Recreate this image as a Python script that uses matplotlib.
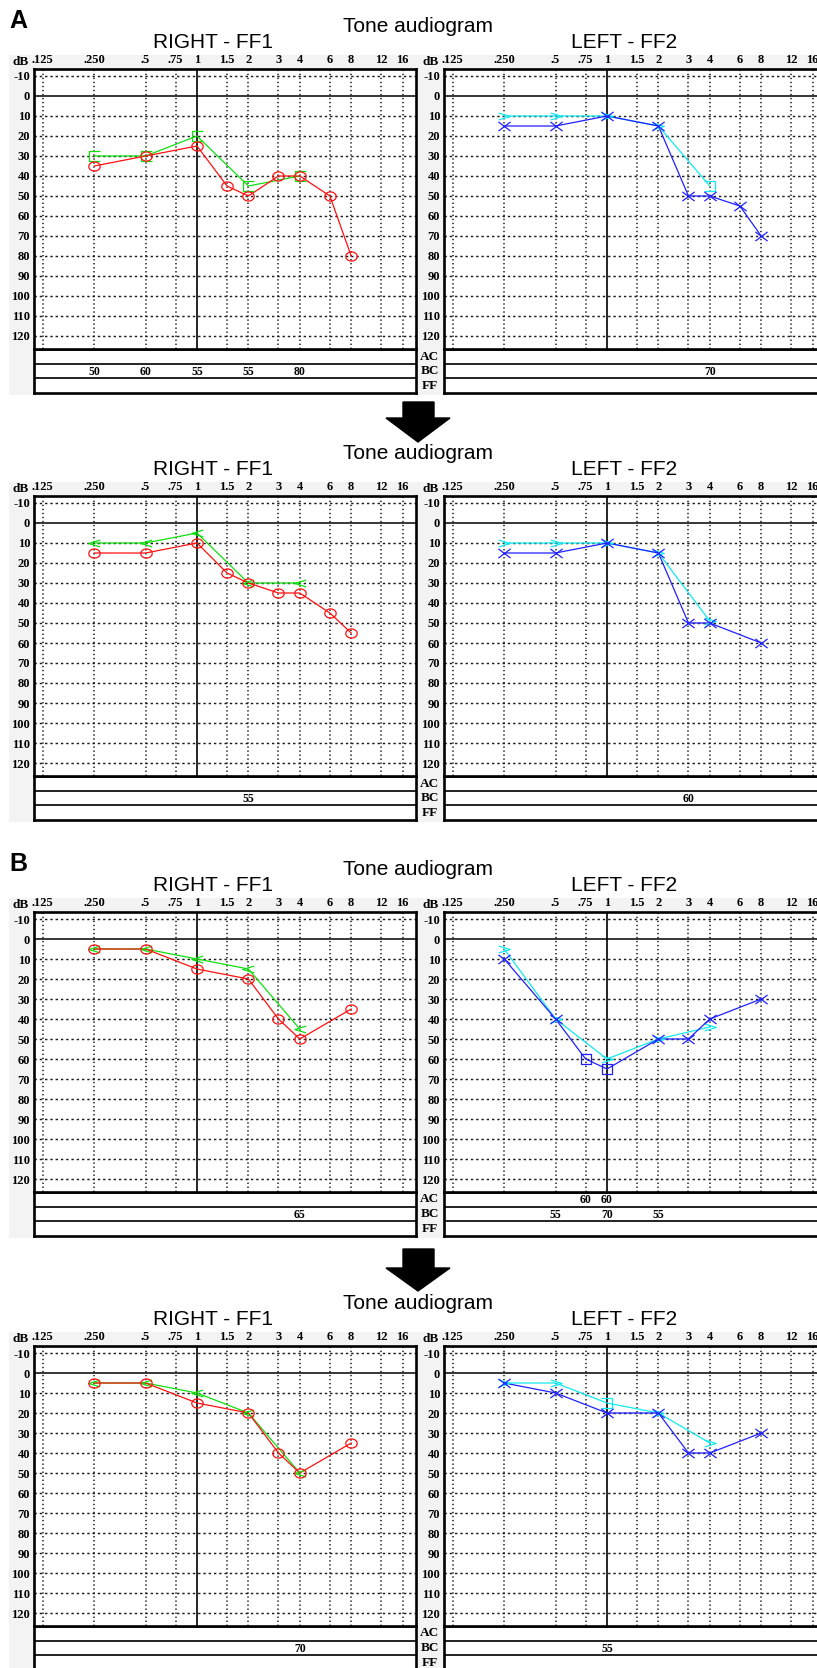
import numpy as np
import matplotlib
matplotlib.use('Agg')
import matplotlib.pyplot as plt
from matplotlib.path import Path
from matplotlib.markers import MarkerStyle
from matplotlib.patches import Rectangle, Polygon
from matplotlib.ticker import NullLocator

plt.rcParams['lines.scale_dashes'] = False

W, H = 817, 1668

# ---------------- data ----------------
freq_ticks = [0.125, 0.25, 0.5, 0.75, 1, 1.5, 2, 3, 4, 6, 8, 12, 16]
freq_labels = ['.125', '.250', '.5', '.75', '1', '1.5', '2', '3', '4', '6', '8', '12', '16']
db_ticks = [-10, 0, 10, 20, 30, 40, 50, 60, 70, 80, 90, 100, 110, 120]
db_labels = [str(v) for v in db_ticks]
row_labels = ['AC', 'BC', 'FF']
block_letters = ['A', '', 'B', '']
title_main = 'Tone audiogram'
title_right = 'RIGHT - FF1'
title_left = 'LEFT - FF2'

# Block 1 (A, before)
b1_r_ac_f = [0.25, 0.5, 1, 1.5, 2, 3, 4, 6, 8]
b1_r_ac_db = [35, 30, 25, 45, 50, 40, 40, 50, 80]
b1_r_ac_sym = ['o'] * 9
b1_r_bc_f = [0.25, 0.5, 1, 2, 4]
b1_r_bc_db = [30, 30, 20, 45, 40]
b1_r_bc_sym = ['[', '[', '[', '[', '[']
b1_l_ac_f = [0.25, 0.5, 1, 2, 3, 4, 6, 8]
b1_l_ac_db = [15, 15, 10, 15, 50, 50, 55, 70]
b1_l_ac_sym = ['x'] * 8
b1_l_bc_f = [0.25, 0.5, 1, 2, 4]
b1_l_bc_db = [10, 10, 10, 15, 45]
b1_l_bc_sym = ['>', '>', '>', '>', ']']
b1_r_tab_bc_f = [0.25, 0.5, 1, 2, 4]
b1_r_tab_bc_v = [50, 60, 55, 55, 80]
b1_l_tab_bc_f = [4]
b1_l_tab_bc_v = [70]

# Block 2 (A, after)
b2_r_ac_f = [0.25, 0.5, 1, 1.5, 2, 3, 4, 6, 8]
b2_r_ac_db = [15, 15, 10, 25, 30, 35, 35, 45, 55]
b2_r_ac_sym = ['o'] * 9
b2_r_bc_f = [0.25, 0.5, 1, 2, 4]
b2_r_bc_db = [10, 10, 5, 30, 30]
b2_r_bc_sym = ['<', '<', '<', '<', '<']
b2_l_ac_f = [0.25, 0.5, 1, 2, 3, 4, 8]
b2_l_ac_db = [15, 15, 10, 15, 50, 50, 60]
b2_l_ac_sym = ['x'] * 7
b2_l_bc_f = [0.25, 0.5, 1, 2, 4]
b2_l_bc_db = [10, 10, 10, 15, 49]
b2_l_bc_sym = ['>', '>', '>', '>', '>']
b2_r_tab_bc_f = [2]
b2_r_tab_bc_v = [55]
b2_l_tab_bc_f = [3]
b2_l_tab_bc_v = [60]

# Block 3 (B, before)
b3_r_ac_f = [0.25, 0.5, 1, 2, 3, 4, 8]
b3_r_ac_db = [5, 5, 15, 20, 40, 50, 35]
b3_r_ac_sym = ['o'] * 7
b3_r_bc_f = [0.25, 0.5, 1, 2, 4]
b3_r_bc_db = [5, 5, 10, 15, 45]
b3_r_bc_sym = ['<', '<', '<', '<', '<']
b3_l_ac_f = [0.25, 0.5, 0.75, 1, 2, 3, 4, 8]
b3_l_ac_db = [10, 40, 60, 65, 50, 50, 40, 30]
b3_l_ac_sym = ['x', 'x', 's', 's', 'x', 'x', 'x', 'x']
b3_l_bc_f = [0.25, 0.5, 1, 2, 4]
b3_l_bc_db = [5, 40, 60, 50, 44]
b3_l_bc_sym = ['>', '>', '>', '>', '>']
b3_r_tab_bc_f = [4]
b3_r_tab_bc_v = [65]
b3_l_tab_ac_f = [0.75, 1]
b3_l_tab_ac_v = [60, 60]
b3_l_tab_bc_f = [0.5, 1, 2]
b3_l_tab_bc_v = [55, 70, 55]

# Block 4 (B, after)
b4_r_ac_f = [0.25, 0.5, 1, 2, 3, 4, 8]
b4_r_ac_db = [5, 5, 15, 20, 40, 50, 35]
b4_r_ac_sym = ['o'] * 7
b4_r_bc_f = [0.25, 0.5, 1, 2, 4]
b4_r_bc_db = [5, 5, 10, 20, 50]
b4_r_bc_sym = ['<', '<', '<', '<', '<']
b4_l_ac_f = [0.25, 0.5, 1, 2, 3, 4, 8]
b4_l_ac_db = [5, 10, 20, 20, 40, 40, 30]
b4_l_ac_sym = ['x'] * 7
b4_l_bc_f = [0.25, 0.5, 1, 2, 4]
b4_l_bc_db = [5, 5, 15, 20, 35]
b4_l_bc_sym = ['>', '>', ']', '>', '>']
b4_r_tab_bc_f = [4]
b4_r_tab_bc_v = [70]
b4_l_tab_bc_f = [1]
b4_l_tab_bc_v = [55]

blocks = [
    dict(r_ac=(b1_r_ac_f, b1_r_ac_db, b1_r_ac_sym), r_bc=(b1_r_bc_f, b1_r_bc_db, b1_r_bc_sym),
         l_ac=(b1_l_ac_f, b1_l_ac_db, b1_l_ac_sym), l_bc=(b1_l_bc_f, b1_l_bc_db, b1_l_bc_sym),
         r_tab={'BC': (b1_r_tab_bc_f, b1_r_tab_bc_v)}, l_tab={'BC': (b1_l_tab_bc_f, b1_l_tab_bc_v)}),
    dict(r_ac=(b2_r_ac_f, b2_r_ac_db, b2_r_ac_sym), r_bc=(b2_r_bc_f, b2_r_bc_db, b2_r_bc_sym),
         l_ac=(b2_l_ac_f, b2_l_ac_db, b2_l_ac_sym), l_bc=(b2_l_bc_f, b2_l_bc_db, b2_l_bc_sym),
         r_tab={'BC': (b2_r_tab_bc_f, b2_r_tab_bc_v)}, l_tab={'BC': (b2_l_tab_bc_f, b2_l_tab_bc_v)}),
    dict(r_ac=(b3_r_ac_f, b3_r_ac_db, b3_r_ac_sym), r_bc=(b3_r_bc_f, b3_r_bc_db, b3_r_bc_sym),
         l_ac=(b3_l_ac_f, b3_l_ac_db, b3_l_ac_sym), l_bc=(b3_l_bc_f, b3_l_bc_db, b3_l_bc_sym),
         r_tab={'BC': (b3_r_tab_bc_f, b3_r_tab_bc_v)},
         l_tab={'AC': (b3_l_tab_ac_f, b3_l_tab_ac_v), 'BC': (b3_l_tab_bc_f, b3_l_tab_bc_v)}),
    dict(r_ac=(b4_r_ac_f, b4_r_ac_db, b4_r_ac_sym), r_bc=(b4_r_bc_f, b4_r_bc_db, b4_r_bc_sym),
         l_ac=(b4_l_ac_f, b4_l_ac_db, b4_l_ac_sym), l_bc=(b4_l_bc_f, b4_l_bc_db, b4_l_bc_sym),
         r_tab={'BC': (b4_r_tab_bc_f, b4_r_tab_bc_v)}, l_tab={'BC': (b4_l_tab_bc_f, b4_l_tab_bc_v)}),
]

# ---------------- style / layout ----------------
RED, GREEN, CYAN, BLUE = '#ff1010', '#10e010', '#10eaf0', '#2020ff'
GRAY_BG = '#f3f3f3'
SERIF = 'Liberation Serif'
SANS = 'Liberation Sans'
PX_OCT = 51.4
DB_PX = 2.0
BLOCK_DY = [0, 427, 843, 1277]
X1K = {'R': 197, 'L': 607}

M_, L_ = Path.MOVETO, Path.LINETO
_t = np.linspace(0, 2 * np.pi, 41)


def _mk(verts, codes=None):
    return MarkerStyle(Path(np.asarray(verts, float), codes))


MARKERS = {
    'o': (_mk(np.c_[np.cos(_t), 0.8 * np.sin(_t)]), 8.2),
    'x': (_mk([(-1, -0.75), (1, 0.75), (-1, 0.75), (1, -0.75)], [M_, L_, M_, L_]), 8.8),
    's': (_mk([(-1, -1), (1, -1), (1, 1), (-1, 1), (-1, -1)]), 6.8),
    '[': (_mk([(1, 0.8), (-0.8, 0.8), (-0.8, -0.8), (1, -0.8)]), 8.2),
    ']': (_mk([(-1, 0.8), (0.8, 0.8), (0.8, -0.8), (-1, -0.8)]), 8.2),
    '<': (_mk([(1, 0.6), (-1, 0), (1, -0.6)]), 8.2),
    '>': (_mk([(-1, 0.6), (1, 0), (-1, -0.6)]), 8.2),
}

fig = plt.figure(figsize=(W / 100, H / 100), dpi=100)


def fx(x):
    return x / W


def fy(y):
    return 1 - y / H


def series(ax, data, color):
    f, db, syms = data
    ax.plot(f, db, color=color, lw=0.9, zorder=3, clip_on=False)
    for s in sorted(set(syms)):
        idx = [i for i, v in enumerate(syms) if v == s]
        m, ms = MARKERS[s]
        ax.plot([f[i] for i in idx], [db[i] for i in idx], ls='none', marker=m, ms=ms,
                mec=color, mfc='none', mew=0.9, zorder=4, clip_on=False)


def panel(side, dy, ac, bc, tab, ac_color, bc_color):
    x1k = X1K[side]
    y0 = 96 + dy
    l, r = x1k - 163, x1k + 219
    t, b = y0 - 27, y0 + 253
    xlim = (2 ** ((l - x1k) / PX_OCT), 2 ** ((r - x1k) / PX_OCT))
    ax = fig.add_axes([fx(l), fy(b), (r - l) / W, (b - t) / H])
    ax.set_xscale('log', base=2)
    ax.set_xlim(*xlim)
    ax.set_ylim((b - y0) / DB_PX, (t - y0) / DB_PX)
    ax.set_facecolor('white')
    ax.set_zorder(3)
    for s in ax.spines.values():
        s.set_linewidth(1.9)
        s.set_color('black')
    # grid
    for d in db_ticks:
        if d == 0:
            ax.axhline(d, color='black', lw=1.1, zorder=1)
        else:
            ax.axhline(d, color='#1a1a1a', lw=1.05, ls=(0, (1.7, 2.1)), zorder=1)
    for f in freq_ticks:
        if f == 1:
            ax.axvline(f, color='black', lw=1.2, zorder=1)
        else:
            ax.axvline(f, color='#1a1a1a', lw=1.1, ls=(0, (1.0, 1.9)), zorder=1)
    ax.set_xticks(freq_ticks)
    ax.set_xticklabels(freq_labels, fontfamily=SERIF, fontweight='bold', fontsize=9)
    ax.xaxis.set_minor_locator(NullLocator())
    ax.tick_params(axis='x', which='both', top=True, bottom=False, labeltop=True,
                   labelbottom=False, length=0, pad=2.0)
    ax.set_yticks(db_ticks)
    ax.set_yticklabels(db_labels, fontfamily=SERIF, fontweight='bold', fontsize=9)
    ax.tick_params(axis='y', length=0, pad=2.8)
    series(ax, bc, bc_color)
    series(ax, ac, ac_color)
    fig.text(fx(l - 13), fy(62 + dy), 'dB', ha='center', va='center',
             fontfamily=SERIF, fontweight='bold', fontsize=9.5, zorder=6)

    # table
    tb = b + 44
    axt = fig.add_axes([fx(l), fy(tb), (r - l) / W, 44 / H])
    axt.set_xscale('log', base=2)
    axt.set_xlim(*xlim)
    axt.set_ylim(3, 0)
    axt.set_facecolor('white')
    axt.set_zorder(2)
    axt.set_xticks([])
    axt.set_yticks([])
    axt.xaxis.set_minor_locator(NullLocator())
    for s in axt.spines.values():
        s.set_linewidth(1.9)
        s.set_color('black')
    for yy in (1, 2):
        axt.axhline(yy, color='#111111', lw=1.3)
    for row, (ff, vv) in tab.items():
        ri = row_labels.index(row)
        for f, v in zip(ff, vv):
            axt.text(f, ri + 0.55, str(v), ha='center', va='center',
                     fontfamily=SERIF, fontweight='bold', fontsize=8.5)
    if side == 'L':
        for i, lab in enumerate(row_labels):
            fig.text(fx(l - 14.5), fy(b + 7.5 + 14.7 * i), lab, ha='center', va='center',
                     fontfamily=SERIF, fontweight='bold', fontsize=9.5, zorder=6)


for k, (blk, dy) in enumerate(zip(blocks, BLOCK_DY)):
    fig.patches.append(Rectangle((fx(9), fy(395 + dy)), (W - 9) / W, 340 / H,
                                 transform=fig.transFigure, facecolor=GRAY_BG,
                                 edgecolor='none', zorder=-10))
    if block_letters[k]:
        fig.text(fx(9), fy(28 + dy), block_letters[k], ha='left', va='baseline',
                 fontfamily=SANS, fontweight='bold', fontsize=18)
    fig.text(fx(418), fy(32 + dy), title_main, ha='center', va='baseline',
             fontfamily=SANS, fontsize=15)
    fig.text(fx(213), fy(48 + dy), title_right, ha='center', va='baseline',
             fontfamily=SANS, fontsize=15)
    fig.text(fx(624.5), fy(48 + dy), title_left, ha='center', va='baseline',
             fontfamily=SANS, fontsize=15)
    panel('R', dy, blk['r_ac'], blk['r_bc'], blk['r_tab'], RED, GREEN)
    panel('L', dy, blk['l_ac'], blk['l_bc'], blk['l_tab'], BLUE, CYAN)

# arrows between before/after
for top, base, tip in [(402, 418, 442), (1249, 1268, 1291)]:
    pts = [(403, top), (434, top), (434, base), (450, base), (418, tip),
           (386, base), (403, base)]
    fig.patches.append(Polygon([(fx(x), fy(y)) for x, y in pts], closed=True,
                               transform=fig.transFigure, facecolor='black',
                               edgecolor='black', zorder=5))

fig.savefig('out.png', dpi=100)
